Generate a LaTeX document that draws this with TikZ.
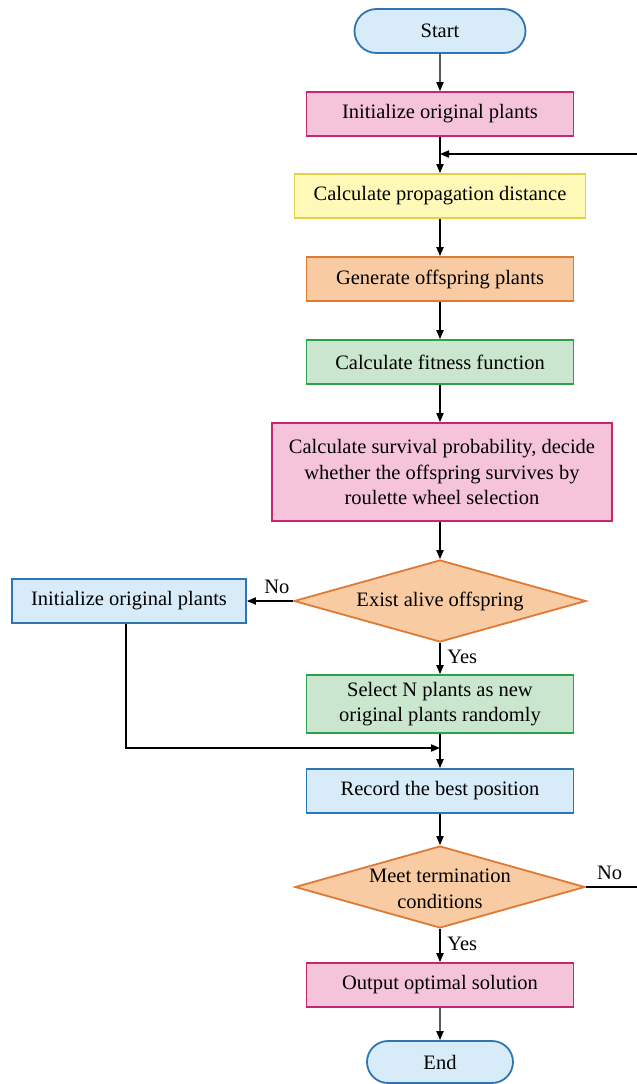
\documentclass[tikz,border=0pt]{standalone}
\usepackage{fontspec}
\setmainfont{Liberation Serif}
\usetikzlibrary{shapes.geometric,shapes.misc,arrows.meta}

\definecolor{blueF}{RGB}{216,235,248}
\definecolor{blueD}{RGB}{46,117,182}
\definecolor{pinkF}{RGB}{246,196,218}
\definecolor{pinkD}{RGB}{196,40,112}
\definecolor{yelF}{RGB}{255,249,184}
\definecolor{yelD}{RGB}{226,208,72}
\definecolor{orF}{RGB}{249,203,162}
\definecolor{orD}{RGB}{222,122,52}
\definecolor{grF}{RGB}{202,230,206}
\definecolor{grD}{RGB}{44,160,74}

\begin{document}
\begin{tikzpicture}[x=0.5pt, y=-0.5pt,
    font=\fontsize{10.25}{12.75}\selectfont,
    box/.style={draw=#1D, fill=#1F, line width=0.9pt, inner sep=0pt,
      align=center, minimum width=133.5pt, minimum height=22pt},
    term/.style={rounded rectangle, draw=blueD, fill=blueF, line width=0.9pt,
      inner sep=0pt, minimum height=22pt},
    decide/.style={diamond, draw=orD, fill=orF, line width=0.9pt, inner sep=0pt,
      minimum width=146pt, minimum height=41pt},
    arr/.style={-{Triangle[length=4.5pt,width=3.6pt]}, line width=0.65pt}]
  \path[use as bounding box, clip] (0,0) rectangle (637,1084);

  % main column
  \node[term, minimum width=85.5pt] (start) at (440,31) {Start};
  \node[box=pink] (init) at (440,114) {Initialize original plants};
  \node[box=yel, minimum width=145.5pt] (dist) at (440,196) {Calculate propagation distance};
  \node[box=or] (gen) at (440,279) {Generate offspring plants};
  \node[box=gr] (fit) at (440,362) {Calculate fitness function};
  \node[box=pink, minimum width=170pt, minimum height=49pt] (surv) at (442,472)
    {Calculate survival probability, decide\\whether the offspring survives by\\roulette wheel selection};
  \node[decide, label={[align=center]center:Exist alive offspring}] (alive) at (440,601) {};
  \node[box=blue, minimum width=117pt] (reinit) at (129,601) {Initialize original plants};
  \node[box=gr, minimum height=29pt] (sel) at (440,704)
    {Select N plants as new\\original plants randomly};
  \node[box=blue] (rec) at (440,791) {Record the best position};
  \node[decide, minimum width=145pt,
    label={[align=center, yshift=-1pt]center:Meet termination\\conditions}] (meet) at (440,887) {};
  \node[box=pink] (out) at (440,985) {Output optimal solution};
  \node[term, minimum width=73pt, minimum height=21pt] (end) at (440,1062) {End};

  \coordinate (merge) at (440,748);
  \coordinate (loop) at (660,887);
  \coordinate (back) at (440,154);

  % connectors
  \draw[arr] (start) -- (init);
  \draw[arr] (init) -- (dist);
  \draw[arr] (dist) -- (gen);
  \draw[arr] (gen) -- (fit);
  \draw[arr] (fit) -- (fit |- surv.north);
  \draw[arr] (surv.south -| alive) -- (alive);
  \draw[arr] (alive) -- node[above, pos=0.35]{No} (reinit);
  \draw[arr] (alive) -- node[right, pos=0.45]{Yes} (sel);
  \draw[arr] (reinit.south -| 126,0) |- (merge);
  \draw[arr] (sel) -- (rec);
  \draw[arr] (rec) -- (meet);
  \draw[arr] (meet) -- node[right, pos=0.45]{Yes} (out);
  \draw[arr] (out) -- (end);
  \draw[arr] (meet.east) -- node[above, pos=0.32]{No} (loop) |- (back);
\end{tikzpicture}
\end{document}
